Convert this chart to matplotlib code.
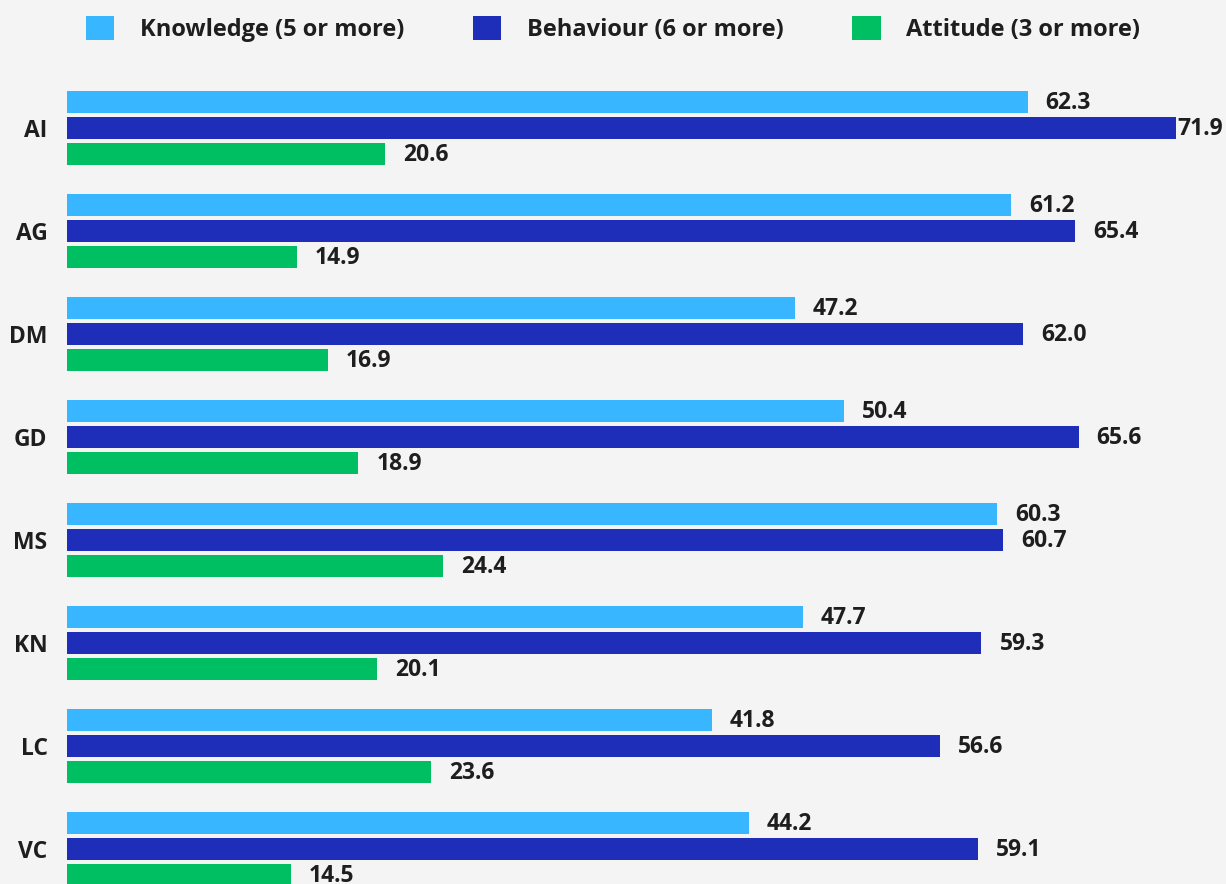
import matplotlib.pyplot as plt
from matplotlib.patches import Patch

categories = ["AI", "AG", "DM", "GD", "MS", "KN", "LC", "VC"]
knowledge = [62.3, 61.2, 47.2, 50.4, 60.3, 47.7, 41.8, 44.2]
behaviour = [71.9, 65.4, 62.0, 65.6, 60.7, 59.3, 56.6, 59.1]
attitude = [20.6, 14.9, 16.9, 18.9, 24.4, 20.1, 23.6, 14.5]
series_names = ["Knowledge (5 or more)", "Behaviour (6 or more)", "Attitude (3 or more)"]
colors = ["#38b6ff", "#1f2eb8", "#00bf63"]

plt.rcParams['font.family'] = ['Open Sans', 'DejaVu Sans']
text_color = "#1e1e1e"
bg = "#f4f4f4"

fig = plt.figure(figsize=(12.26, 8.84), dpi=100, facecolor=bg)
ax = fig.add_axes([67 / 1226, 0, 1 - 67 / 1226, (884 - 70) / 884])
ax.set_facecolor(bg)

step = 0.252
height = 0.214
ypos = list(range(len(categories)))
for k, vals in enumerate([knowledge, behaviour, attitude]):
    offs = (k - 1) * step
    ys = [y + offs for y in ypos]
    ax.barh(ys, vals, height=height, color=colors[k], label=series_names[k])
    for y, v in zip(ys, vals):
        pad = 1 if v > 70 else 13
        ax.annotate(f"{v:.1f}", (v, y), xytext=(pad, -1), textcoords="offset points",
                    ha="left", va="center", fontsize=16.5, fontweight="bold",
                    color=text_color, annotation_clip=False)

ax.set_xlim(0, 75.16)
ax.set_ylim(7.34, -0.563)
ax.set_yticks(ypos)
ax.set_yticklabels(categories, fontsize=16.5, fontweight="bold", color=text_color)
ax.tick_params(axis="y", length=0, pad=14)
ax.set_xticks([])
for s in ax.spines.values():
    s.set_visible(False)

handles = [Patch(facecolor=c, edgecolor="none") for c in colors]
leg = fig.legend(handles, series_names, loc="center", bbox_to_anchor=(0.5, 1 - 29 / 884),
                 ncol=3, frameon=False, handlelength=1.2, handleheight=1.2,
                 columnspacing=2.9, handletextpad=1.1,
                 prop={"size": 17, "weight": "bold"})
for t in leg.get_texts():
    t.set_color(text_color)

fig.savefig("out.png", dpi=100, facecolor=bg)
plt.close(fig)
